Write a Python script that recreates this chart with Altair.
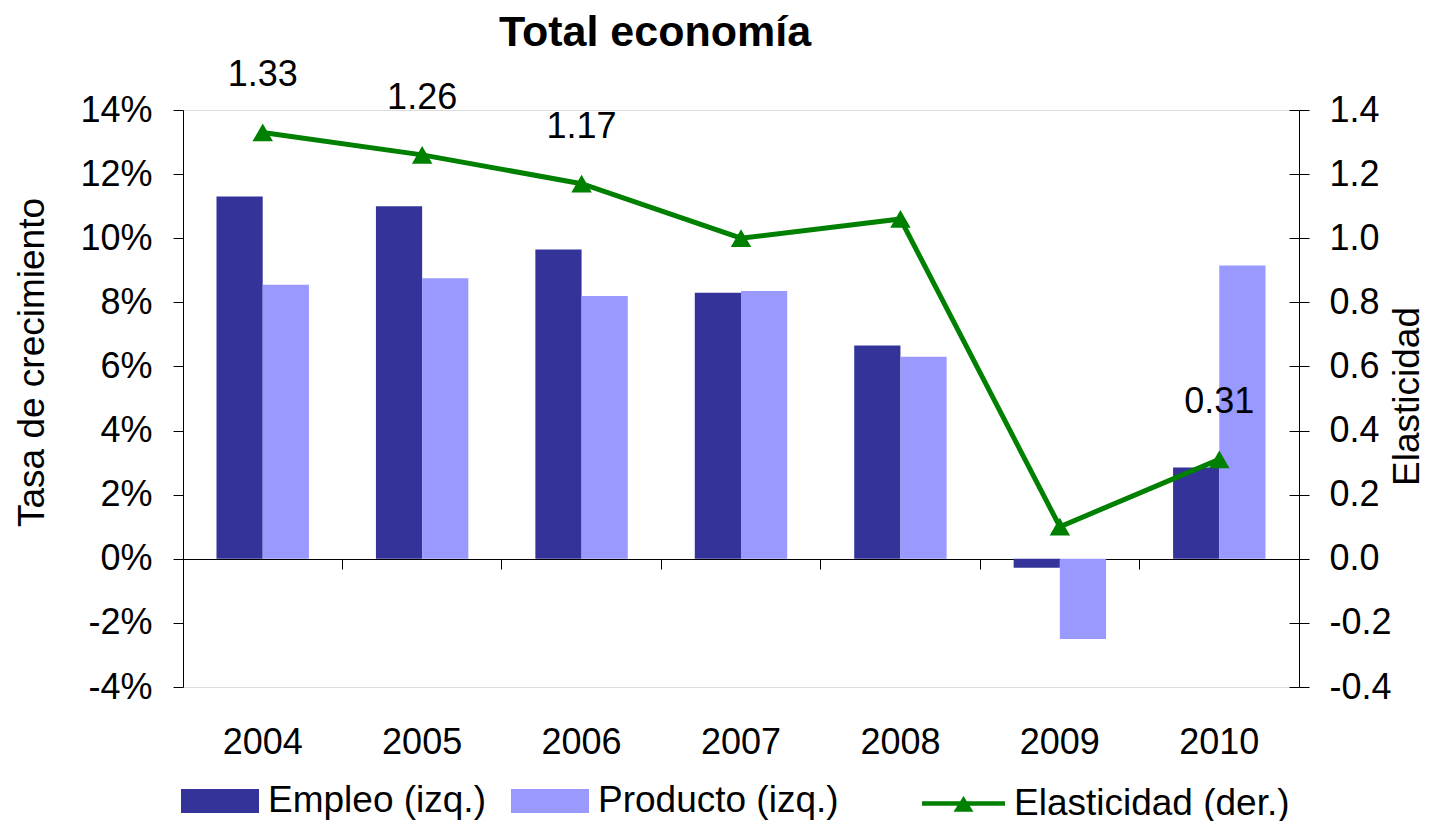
import altair as alt
import pandas as pd

years = ["2004", "2005", "2006", "2007", "2008", "2009", "2010"]
empleo = [11.3, 11.0, 9.65, 8.3, 6.65, -0.28, 2.85]
producto = [8.55, 8.75, 8.2, 8.35, 6.3, -2.5, 9.15]
elasticidad = [1.33, 1.26, 1.17, 1.0, 1.06, 0.10, 0.31]
etiquetas = ["1.33", "1.26", "1.17", "", "", "", "0.31"]
series_barras = ["Empleo (izq.)", "Producto (izq.)"]
serie_linea = "Elasticidad (der.)"
left_ticks = [-4, -2, 0, 2, 4, 6, 8, 10, 12, 14]
right_ticks = [-0.4, -0.2, 0.0, 0.2, 0.4, 0.6, 0.8, 1.0, 1.2, 1.4]

bars_df = pd.DataFrame(
    [{"year": y, "serie": series_barras[0], "value": v} for y, v in zip(years, empleo)]
    + [{"year": y, "serie": series_barras[1], "value": v} for y, v in zip(years, producto)]
)
line_df = pd.DataFrame({"year": years, "elas": elasticidad, "label": etiquetas,
                        "serie": [serie_linea] * len(years)})

FONT = "Liberation Sans"
GREEN = "#008000"
xscale = alt.Scale(domain=years, paddingInner=0, paddingOuter=0)

bars = alt.Chart(bars_df).mark_bar().encode(
    x=alt.X("year:N", scale=xscale, title=None,
            axis=alt.Axis(orient="bottom", ticks=False, domain=False, labelAngle=0,
                          labelFontSize=36, labelFont=FONT, labelColor="black",
                          labelPadding=38, grid=False)),
    xOffset=alt.XOffset("serie:N", sort=series_barras,
                        scale=alt.Scale(paddingInner=0, paddingOuter=0.725)),
    y=alt.Y("value:Q", scale=alt.Scale(domain=[-4, 14], nice=False, zero=False),
            title="Tasa de crecimiento",
            axis=alt.Axis(orient="left", values=left_ticks, labelExpr="datum.value + '%'",
                          grid=False, tickSize=10, tickColor="black", domainColor="black",
                          labelFontSize=36, labelFont=FONT, labelColor="black", labelPadding=21,
                          titleFontSize=37, titleFont=FONT, titleFontWeight="normal",
                          titleColor="black", titleAngle=-90, titleX=-140, titleY=252,
                          titleAlign="center", titleBaseline="alphabetic")),
    color=alt.Color("serie:N", sort=series_barras,
                    scale=alt.Scale(domain=series_barras, range=["#333399", "#9999FF"]),
                    legend=alt.Legend(orient="none", legendX=-2, legendY=652, direction="horizontal",
                                      title=None, symbolType="M-1,-0.308H1V0.308H-1Z",
                                      symbolSize=6084, symbolStrokeWidth=0, labelOffset=9,
                                      columnPadding=25, labelFontSize=37, labelFont=FONT,
                                      labelColor="black", padding=0, symbolOpacity=1,
                                      labelLimit=500)),
)

line = alt.Chart(line_df).mark_line(color=GREEN, strokeWidth=5).encode(
    x=alt.X("year:N", scale=xscale, axis=None),
    y=alt.Y("elas:Q", scale=alt.Scale(domain=[-0.4, 1.4], nice=False, zero=False),
            title="Elasticidad",
            axis=alt.Axis(orient="right", values=right_ticks,
                          labelExpr="datum.value < 0 ? '-' + format(-datum.value, '.1f') : format(datum.value, '.1f')",
                          grid=False, tickSize=10, tickColor="black", domainColor="black",
                          labelFontSize=36, labelFont=FONT, labelColor="black", labelPadding=20,
                          titleFontSize=37, titleFont=FONT, titleFontWeight="normal",
                          titleColor="black", titleAngle=-90, titleX=119, titleY=286,
                          titleAlign="center", titleBaseline="alphabetic")),
)

points = alt.Chart(line_df).mark_point(shape="triangle-up", filled=True, size=420, opacity=1).encode(
    x=alt.X("year:N", scale=xscale, axis=None),
    y=alt.Y("elas:Q", scale=alt.Scale(domain=[-0.4, 1.4], nice=False, zero=False),
            axis=alt.Axis(orient="right", values=right_ticks, labels=False, domain=False,
                          grid=False, ticks=True, tickSize=10, tickColor="black",
                          offset=-10, title=None)),
    fill=alt.Fill("serie:N", scale=alt.Scale(domain=[serie_linea], range=[GREEN]),
                  legend=alt.Legend(orient="none", legendX=739, legendY=652, title=None,
                                    symbolType="M-1,-0.055H1V0.055H-1Z M-0.24,0.2L0,-0.18L0.24,0.2Z",
                                    symbolSize=6889, symbolStrokeWidth=0, labelOffset=9,
                                    labelFontSize=37, labelFont=FONT, labelColor="black",
                                    padding=0, symbolFillColor=GREEN, symbolOpacity=1,
                                    labelLimit=500)),
)

text = alt.Chart(line_df).mark_text(fontSize=36, font=FONT, color="black", dy=-46,
                                    baseline="alphabetic", align="center").encode(
    x=alt.X("year:N", scale=xscale, title=None,
            axis=alt.Axis(orient="bottom", offset=-128, bandPosition=0, labels=False,
                          ticks=True, tickSize=10, tickColor="black", domain=True,
                          domainColor="black", grid=False)),
    y=alt.Y("elas:Q", scale=alt.Scale(domain=[-0.4, 1.4], nice=False, zero=False), axis=None),
    text="label:N",
)

chart = alt.layer(bars, line, points, text).resolve_scale(
    y="independent"
).resolve_axis(x="independent").properties(
    width=1116, height=577,
    autosize=alt.AutoSizeParams(type="none"),
    padding={"left": 175, "top": 102, "right": 127, "bottom": 134},
    title=alt.Title("Total economía", fontSize=43, fontWeight="bold", font=FONT,
                    color="black", dx=-86, offset=2, anchor="middle"),
).configure_view(stroke=None).configure(font=FONT)

chart.save("out.html", embed_options={"renderer": "svg", "actions": False})
